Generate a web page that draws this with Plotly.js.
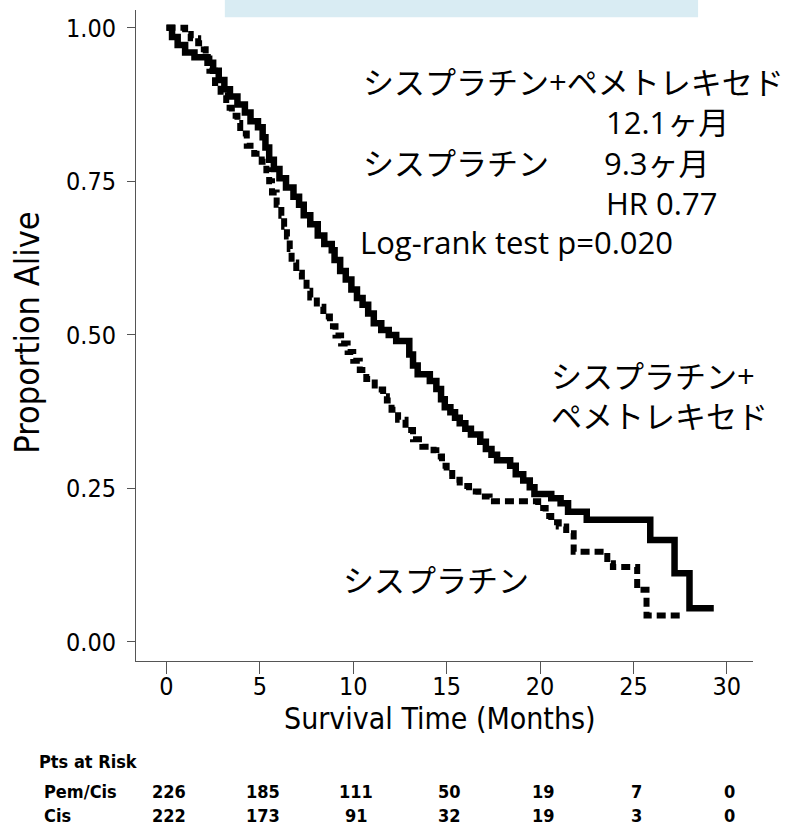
<!DOCTYPE html>
<html>
<head>
<meta charset="utf-8">
<script src="https://cdn.plot.ly/plotly-3.0.1.min.js"></script>
<style>
html,body{margin:0;padding:0;background:#fff;}
#chart{width:803px;height:825px;}
</style>
</head>
<body>
<div id="chart"></div>
<script>
// Kaplan-Meier step data (months, proportion alive)
const pemCisTime = [0,0.3,0.6,1.0,1.5,2.2,2.5,2.8,3.1,3.4,3.8,4.2,4.5,4.9,5.15,5.3,5.5,5.75,6.05,6.4,6.8,7.1,7.35,7.7,8.1,8.45,8.85,9.0,9.3,9.6,9.9,10.2,10.5,10.8,11.1,11.5,11.9,12.3,13.0,13.2,13.45,14.1,14.45,14.7,14.9,15.2,15.45,15.7,16.0,16.3,16.8,17.1,17.4,17.7,18.4,18.7,19.1,19.45,19.7,20.6,21.1,21.5,22.5,25.9,27.2,28.0,29.3];
const pemCisSurv = [1.0,0.985,0.972,0.960,0.952,0.943,0.930,0.915,0.900,0.888,0.875,0.862,0.848,0.838,0.822,0.805,0.785,0.770,0.755,0.740,0.725,0.712,0.695,0.680,0.662,0.648,0.638,0.622,0.604,0.590,0.574,0.560,0.549,0.535,0.519,0.508,0.500,0.490,0.468,0.450,0.436,0.425,0.412,0.395,0.382,0.374,0.365,0.356,0.347,0.338,0.326,0.314,0.305,0.296,0.287,0.273,0.263,0.252,0.241,0.234,0.226,0.212,0.199,0.166,0.112,0.055,0.055];

const cisTime = [0,1.0,1.3,1.7,2.0,2.1,2.3,2.6,2.9,3.2,3.5,3.8,3.95,4.3,4.7,5.1,5.35,5.5,5.65,5.9,6.15,6.3,6.45,6.6,6.7,6.95,7.25,7.5,7.7,8.05,8.4,8.75,9.05,9.35,9.7,10.0,10.35,10.7,11.15,11.6,11.8,12.05,12.4,12.8,13.2,13.7,14.3,14.45,14.75,15.0,15.3,15.7,16.2,16.7,17.3,19.9,20.3,20.6,21.0,21.4,21.8,23.6,23.9,25.2,25.7,27.7];
const cisSurv = [1.0,0.990,0.983,0.975,0.965,0.950,0.930,0.910,0.890,0.870,0.857,0.845,0.828,0.808,0.795,0.782,0.768,0.750,0.732,0.712,0.694,0.676,0.660,0.640,0.618,0.601,0.585,0.572,0.561,0.546,0.530,0.514,0.499,0.486,0.472,0.458,0.443,0.428,0.411,0.400,0.393,0.378,0.362,0.345,0.330,0.318,0.312,0.302,0.287,0.275,0.264,0.254,0.245,0.237,0.229,0.218,0.205,0.195,0.188,0.177,0.147,0.128,0.122,0.085,0.043,0.043];

const xTickVals = [0,5,10,15,20,25,30];
const yTickVals = [0,0.25,0.5,0.75,1.0];
const yTickText = ['0.00','0.25','0.50','0.75','1.00'];

const riskTimes = [0,5,10,15,20,25,30];
const riskPemCis = [226,185,111,50,19,7,0];
const riskCis = [222,173,91,32,19,3,0];
const riskRowLabels = ['Pem/Cis','Cis'];

const axisFont = '"Liberation Sans Narrow","DejaVu Sans Condensed","Arial Narrow","Roboto",sans-serif';
const jpFont = '"Open Sans","Noto Sans CJK JP",sans-serif';

const traces = [
  {x: pemCisTime, y: pemCisSurv, type:'scatter', mode:'lines',
   line:{shape:'hv', color:'#000', width:6.5}, hoverinfo:'skip', showlegend:false},
  {x: cisTime, y: cisSurv, type:'scatter', mode:'lines',
   line:{shape:'hv', color:'#000', width:6, dash:'9px,5px'}, hoverinfo:'skip', showlegend:false}
];

const ann = [];
function txt(x, y, text, extra){
  ann.push(Object.assign({x:x, y:y, xref:'x', yref:'y', text:text, showarrow:false,
    xanchor:'left', yanchor:'middle', align:'left',
    font:{family:jpFont, size:31, color:'#000'}}, extra||{}));
}
txt(10.40, 0.911, 'シスプラチン+ペメトレキセド');
txt(23.42, 0.846, '12.1ヶ月');
txt(10.40, 0.780, 'シスプラチン');
txt(23.30, 0.780, '9.3ヶ月');
txt(23.42, 0.715, 'HR 0.77');
txt(10.25, 0.652, 'Log-rank test p=0.020');
txt(20.47, 0.401, 'シスプラチン+<br>ペメトレキセド');
txt(9.33, 0.101, 'シスプラチン');

// x axis title as annotation for exact placement
ann.push({x:0.492, y:-0.089, xref:'paper', yref:'paper', text:'Survival Time (Months)', showarrow:false,
  xanchor:'center', yanchor:'middle', font:{family:axisFont, size:30, color:'#000'}});

// y axis title
ann.push({x:-0.176, y:0.505, xref:'paper', yref:'paper', text:'Proportion Alive',
  showarrow:false, textangle:-90, xanchor:'center', yanchor:'middle',
  font:{family:axisFont, size:34, color:'#000'}});

// risk table
const tblFont = {family:axisFont, size:18, color:'#000', weight:'bold'};
ann.push({x:-0.160, y:-0.155, xref:'paper', yref:'paper', text:'Pts at Risk', showarrow:false,
  xanchor:'left', yanchor:'middle', font:tblFont});
const rows = [riskPemCis, riskCis];
const rowY = [-0.201, -0.238];
rows.forEach((vals, r) => {
  ann.push({x:-0.152, y:rowY[r], xref:'paper', yref:'paper', text:riskRowLabels[r], showarrow:false,
    xanchor:'left', yanchor:'middle', font:tblFont});
  vals.forEach((v, i) => {
    ann.push({x:riskTimes[i], y:rowY[r], xref:'x', yref:'paper', text:String(v), showarrow:false,
      xanchor:'center', yanchor:'middle', xshift:3, font:tblFont});
  });
});

const layout = {
  width:803, height:825,
  margin:{l:136, r:50, t:10, b:164},
  paper_bgcolor:'#fff', plot_bgcolor:'#fff',
  showlegend:false,
  font:{family:axisFont, color:'#000'},
  xaxis:{
    range:[-1.63, 31.4], tickvals:xTickVals, ticktext:xTickVals.map(String),
    showgrid:false, zeroline:false, showline:true, linecolor:'#555', linewidth:1,
    ticks:'outside', ticklen:12, tickcolor:'#555', tickwidth:1,
    tickfont:{family:axisFont, size:25, color:'#000'}, ticklabelstandoff:-9,
    fixedrange:true
  },
  yaxis:{
    range:[-0.031, 1.029], tickvals:yTickVals, ticktext:yTickText,
    showgrid:false, zeroline:false, showline:true, linecolor:'#555', linewidth:1,
    ticks:'outside', ticklen:8, tickcolor:'#555', tickwidth:1,
    tickfont:{family:axisFont, size:25, color:'#000'}, ticklabelstandoff:6,
    fixedrange:true
  },
  shapes:[{type:'rect', xref:'paper', yref:'paper', x0:0.144, x1:0.911, y0:0.989, y1:1.02,
    fillcolor:'#d9ecf3', line:{width:0}, layer:'below'}],
  annotations: ann
};

Plotly.newPlot('chart', traces, layout, {displayModeBar:false, staticPlot:true});
</script>
</body>
</html>
